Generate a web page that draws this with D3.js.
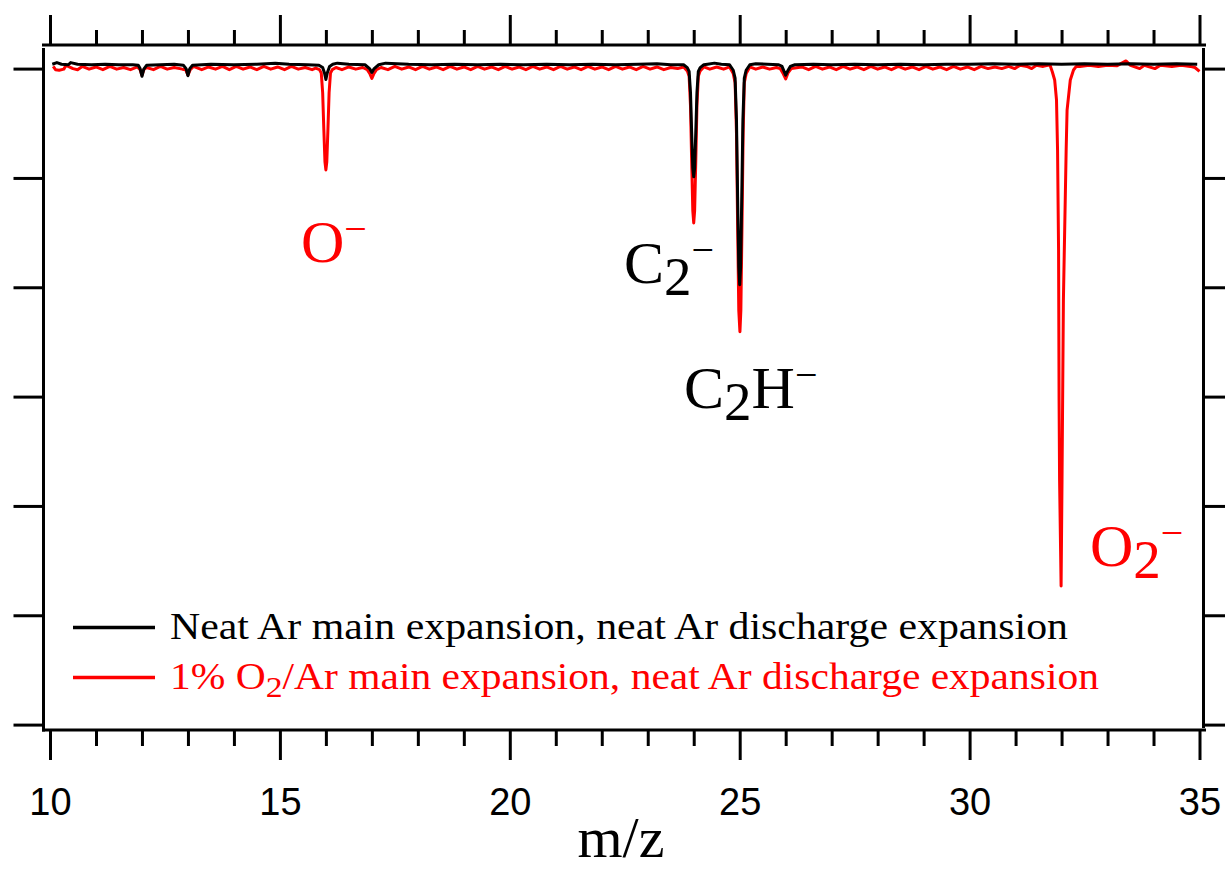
<!DOCTYPE html>
<html>
<head>
<meta charset="utf-8">
<script src="https://cdn.jsdelivr.net/npm/d3@7"></script>
<style>
	body { margin: 0; background: #fff; }
	svg { display: block; }
</style>
</head>
<body>
<div id="chart"></div>
<script>
// m/z axis ticks
var majorTicks = [10, 15, 20, 25, 30, 35];
var minorTicks = [11, 12, 13, 14, 16, 17, 18, 19, 21, 22, 23, 24, 26, 27, 28, 29, 31, 32, 33, 34];
// intensity axis ticks (unlabelled in the figure)
var yTicks = [0, 1, 2, 3, 4, 5, 6];

// neat Ar main expansion, neat Ar discharge expansion: [m/z, signal]
var blackTrace = [
	[10.05, 6.04], [10.15, 6.055], [10.25, 6.04], [10.4, 6.035], [10.45, 6.055], [10.6, 6.04], [10.9, 6.035],
	[11.2, 6.04], [11.5, 6.035], [11.8, 6.035],
	[11.92, 6.03], [11.96, 6.0], [12.0, 5.93], [12.04, 5.995], [12.1, 6.03],
	[12.4, 6.035], [12.7, 6.04], [12.9, 6.03], [12.96, 6.0], [13.0, 5.935], [13.04, 6.0], [13.1, 6.03],
	[13.5, 6.04], [14.0, 6.035], [14.5, 6.04], [14.9, 6.05], [15.2, 6.04], [15.6, 6.035], [15.85, 6.03],
	[15.93, 6.01], [15.97, 5.96], [16.0, 5.9], [16.03, 5.96], [16.08, 6.02], [16.15, 6.04], [16.25, 6.05], [16.5, 6.04],
	[16.85, 6.035], [16.95, 6.0], [17.0, 5.965], [17.05, 6.0], [17.15, 6.035], [17.3, 6.05],
	[17.8, 6.04], [18.3, 6.035], [18.8, 6.04], [19.3, 6.035], [19.8, 6.04], [20.3, 6.035], [20.8, 6.04],
	[21.3, 6.035], [21.8, 6.04], [22.3, 6.035], [22.8, 6.04], [23.2, 6.045], [23.5, 6.035],
	[23.78, 6.035], [23.86, 6.009], [23.9, 5.974], [23.93, 5.779], [23.955, 5.42], [23.98, 5.092], [24.0, 5.01],
	[24.02, 5.092], [24.045, 5.42], [24.07, 5.779], [24.1, 5.974], [24.14, 6.009], [24.22, 6.035],
	[24.3, 6.04], [24.45, 6.05], [24.6, 6.04],
	[24.78, 6.035], [24.86, 5.985], [24.9, 5.914], [24.93, 5.532], [24.955, 4.828], [24.98, 4.184], [25.0, 4.023],
	[25.02, 4.184], [25.045, 4.828], [25.07, 5.532], [25.1, 5.914], [25.14, 5.985], [25.22, 6.035],
	[25.35, 6.045], [25.6, 6.04], [25.85, 6.035],
	[25.92, 6.02], [25.97, 5.97], [26.0, 5.94], [26.04, 5.975], [26.1, 6.02], [26.2, 6.035],
	[26.6, 6.04], [27.0, 6.035], [27.5, 6.04], [28.0, 6.035], [28.5, 6.04], [29.0, 6.035], [29.5, 6.04],
	[30.0, 6.04], [30.5, 6.045], [31.0, 6.04], [31.5, 6.045], [32.0, 6.04], [32.5, 6.045], [33.0, 6.04],
	[33.5, 6.045], [34.0, 6.04], [34.5, 6.045], [34.95, 6.04]
];

// 1% O2/Ar main expansion, neat Ar discharge expansion: [m/z, signal]
var redTrace = [
	[10.07, 6.02], [10.12, 5.99], [10.2, 5.985], [10.3, 5.995], [10.35, 6.03], [10.5, 6.0], [10.6, 5.99],
	[10.7, 6.02], [10.85, 5.995], [11.0, 6.015], [11.15, 5.99], [11.3, 6.02], [11.45, 5.995], [11.6, 6.01],
	[11.75, 5.99], [11.9, 6.015],
	[11.96, 5.99], [12.0, 5.94], [12.04, 5.99], [12.1, 6.01],
	[12.25, 5.99], [12.4, 6.02], [12.55, 5.995], [12.7, 6.01], [12.88, 5.995], [12.95, 5.99], [13.0, 5.94],
	[13.05, 5.99], [13.12, 6.02],
	[13.3, 5.99], [13.45, 6.015], [13.6, 5.995], [13.75, 6.02], [13.9, 5.99], [14.05, 6.02], [14.2, 5.995],
	[14.35, 6.015], [14.5, 5.99], [14.65, 6.02], [14.8, 5.995], [14.95, 6.015], [15.1, 5.99], [15.25, 6.02],
	[15.4, 5.995], [15.55, 6.01], [15.7, 5.99],
	[15.78, 6.005], [15.86, 5.991], [15.9, 5.958], [15.93, 5.779], [15.955, 5.45], [15.98, 5.148], [16.0, 5.073],
	[16.02, 5.148], [16.045, 5.45], [16.07, 5.779], [16.1, 5.958], [16.14, 5.991], [16.22, 6.01],
	[16.35, 5.99], [16.5, 6.015], [16.65, 5.995], [16.8, 6.01],
	[16.9, 5.99], [16.96, 5.95], [17.0, 5.91], [17.04, 5.95], [17.1, 5.99], [17.2, 6.01],
	[17.35, 5.99], [17.5, 6.02], [17.65, 5.995], [17.8, 6.015], [17.95, 5.99], [18.1, 6.02], [18.25, 5.995],
	[18.4, 6.015], [18.55, 5.99], [18.7, 6.02], [18.85, 5.995], [19.0, 6.015], [19.15, 5.99], [19.3, 6.02],
	[19.45, 5.995], [19.6, 6.015], [19.75, 5.99], [19.9, 6.02], [20.05, 5.995], [20.2, 6.015], [20.35, 5.99],
	[20.5, 6.02], [20.65, 5.995], [20.8, 6.015], [20.95, 5.99], [21.1, 6.02], [21.25, 5.995], [21.4, 6.015],
	[21.55, 5.99], [21.7, 6.02], [21.85, 5.995], [22.0, 6.015], [22.15, 5.99], [22.3, 6.02], [22.45, 5.995],
	[22.6, 6.015], [22.75, 5.99], [22.9, 6.02], [23.05, 5.995], [23.2, 6.015], [23.35, 5.99], [23.5, 6.01],
	[23.65, 6.0],
	[23.78, 6.015], [23.86, 5.979], [23.9, 5.929], [23.93, 5.658], [23.955, 5.159], [23.98, 4.702], [24.0, 4.588],
	[24.02, 4.702], [24.045, 5.159], [24.07, 5.658], [24.1, 5.929], [24.14, 5.979], [24.22, 6.015],
	[24.35, 5.995], [24.5, 6.015], [24.65, 5.995],
	[24.78, 6.015], [24.86, 5.954], [24.9, 5.87], [24.93, 5.41], [24.955, 4.562], [24.98, 3.788], [25.005, 3.594],
	[25.025, 3.788], [25.05, 4.562], [25.075, 5.41], [25.1, 5.87], [25.14, 5.954], [25.22, 6.015],
	[25.35, 5.995], [25.5, 6.015], [25.65, 5.995], [25.8, 6.01],
	[25.88, 6.0], [25.95, 5.95], [26.0, 5.905], [26.05, 5.96], [26.12, 6.0], [26.2, 6.005],
	[26.35, 6.015], [26.5, 5.99], [26.65, 6.02], [26.8, 5.995], [26.95, 6.015], [27.1, 5.99], [27.25, 6.02],
	[27.4, 5.995], [27.55, 6.015], [27.7, 5.99], [27.85, 6.02], [28.0, 5.995], [28.15, 6.015], [28.3, 5.99],
	[28.45, 6.02], [28.6, 5.995], [28.75, 6.015], [28.9, 5.99], [29.05, 6.02], [29.2, 5.995], [29.35, 6.015],
	[29.5, 5.99], [29.65, 6.02], [29.8, 5.995], [29.95, 6.015], [30.1, 5.99], [30.25, 6.02], [30.4, 6.0],
	[30.55, 6.015], [30.7, 6.0], [30.85, 6.02], [30.98, 6.0], [31.1, 6.03], [31.25, 6.02], [31.35, 6.0],
	[31.45, 6.03], [31.6, 6.02], [31.7, 6.03],
	[31.75, 6.03], [31.8, 5.969], [31.85, 5.896], [31.89, 5.713], [31.913, 5.256], [31.935, 4.341],
	[31.946, 2.969], [31.957, 2.237], [31.99, 1.268], [32.01, 2.237], [32.04, 3.884], [32.08, 4.799],
	[32.1, 5.256], [32.12, 5.621], [32.19, 5.896], [32.26, 5.987], [32.32, 6.02],
	[32.4, 6.02], [32.6, 6.03], [32.8, 6.02], [33.0, 6.03], [33.2, 6.025], [33.4, 6.07], [33.5, 6.03],
	[33.7, 6.0], [33.8, 6.03], [34.03, 6.0], [34.15, 6.03], [34.4, 6.02], [34.6, 6.03], [34.8, 6.02],
	[34.9, 6.01], [35.0, 5.975]
];

// legend rows, each split in [text, isSubscript] pieces
var legendRows = [
	{ color: "#000", pieces: [["Neat Ar main expansion, neat Ar discharge expansion", 0]] },
	{ color: "#f00", pieces: [["1% O", 0], ["2", 1], ["/Ar main expansion, neat Ar discharge expansion", 0]] }
];
var legendWidths = [898, 929];

// ion labels, pieces marked 0 normal, 1 subscript, 2 superscript
var ionLabels = [
	{ color: "#f00", pieces: [["O", 0], ["\u2212", 2]] },
	{ color: "#000", pieces: [["C", 0], ["2", 1], ["\u2212", 2]] },
	{ color: "#000", pieces: [["C", 0], ["2", 1], ["H", 0], ["\u2212", 2]] },
	{ color: "#f00", pieces: [["O", 0], ["2", 1], ["\u2212", 2]] }
];
var ionLabelPos = [[301, 262], [624, 283], [684, 408], [1090, 566]];

var W = 1225, H = 873;
var svg = d3.select("#chart").append("svg")
	.attr("width", W)
	.attr("height", H)
	.style("background", "#fff");

var x = d3.scaleLinear().domain([10, 35]).range([50, 1199.5]);
var y = d3.scaleLinear().domain([0, 6]).range([724.6, 68.6]);

function plainTicks(g) {
	g.select(".domain").remove();
	g.selectAll(".tick line").attr("stroke", "#000").attr("stroke-width", 3);
}

// top axis
svg.append("g").attr("transform", "translate(0,45)")
	.call(d3.axisTop(x).tickValues(majorTicks).tickSize(30).tickFormat(""))
	.call(plainTicks);
svg.append("g").attr("transform", "translate(0,45)")
	.call(d3.axisTop(x).tickValues(minorTicks).tickSize(15).tickFormat(""))
	.call(plainTicks);

// bottom axis
var bottom = svg.append("g").attr("transform", "translate(0,730)")
	.call(d3.axisBottom(x).tickValues(majorTicks).tickSize(30).tickFormat(d3.format("d")))
	.call(plainTicks);
bottom.selectAll(".tick text")
	.attr("y", 85)
	.attr("dy", 0)
	.attr("fill", "#000")
	.style("font-family", "'Liberation Sans', Arial, sans-serif")
	.style("font-size", "38px");
svg.append("g").attr("transform", "translate(0,730)")
	.call(d3.axisBottom(x).tickValues(minorTicks).tickSize(16).tickFormat(""))
	.call(plainTicks);

// left and right axes
svg.append("g").attr("transform", "translate(43.5,0)")
	.call(d3.axisLeft(y).tickValues(yTicks).tickSize(30).tickFormat(""))
	.call(plainTicks);
svg.append("g").attr("transform", "translate(1203.5,0)")
	.call(d3.axisRight(y).tickValues(yTicks).tickSize(22).tickFormat(""))
	.call(plainTicks);

// frame
var frame = [[42, 45, 1206, 45], [42, 730, 1206, 730], [43.5, 48, 43.5, 731.5], [1203.5, 48, 1203.5, 728]];
svg.selectAll("line.frame").data(frame).enter().append("line")
	.attr("class", "frame")
	.attr("x1", function(d) { return d[0]; })
	.attr("y1", function(d) { return d[1]; })
	.attr("x2", function(d) { return d[2]; })
	.attr("y2", function(d) { return d[3]; })
	.attr("stroke", "#000")
	.attr("stroke-width", 3);

svg.append("clipPath").attr("id", "plotClip")
	.append("rect").attr("x", 45).attr("y", 47).attr("width", 1157).attr("height", 682);

var line = d3.line()
	.x(function(d) { return x(d[0]); })
	.y(function(d) { return y(d[1]); });

// red first so the black trace sits on top of the baseline
var traces = [[redTrace, "#f00"], [blackTrace, "#000"]];
svg.append("g").attr("clip-path", "url(#plotClip)")
	.selectAll("path").data(traces).enter().append("path")
	.attr("d", function(d) { return line(d[0]); })
	.attr("fill", "none")
	.attr("stroke", function(d) { return d[1]; })
	.attr("stroke-width", 3)
	.attr("stroke-linejoin", "round");

// legend
var legend = svg.append("g");
legendRows.forEach(function(row, i) {
	var ly = 627.5 + i * 50;
	legend.append("line")
		.attr("x1", 73).attr("x2", 155)
		.attr("y1", ly).attr("y2", ly)
		.attr("stroke", row.color)
		.attr("stroke-width", 3.5);
	var t = legend.append("text")
		.attr("x", 170)
		.attr("y", ly + 11)
		.attr("fill", row.color)
		.attr("textLength", legendWidths[i])
		.attr("lengthAdjust", "spacingAndGlyphs")
		.style("font-family", "'Liberation Serif', 'Times New Roman', serif")
		.style("font-size", "37px");
	var shift = 0;
	row.pieces.forEach(function(p) {
		var want = p[1] ? 8 : 0;
		t.append("tspan")
			.attr("dy", want - shift)
			.style("font-size", p[1] ? "30px" : "37px")
			.text(p[0]);
		shift = want;
	});
});

// ion labels
ionLabels.forEach(function(lab, i) {
	var t = svg.append("text")
		.attr("x", ionLabelPos[i][0])
		.attr("y", ionLabelPos[i][1])
		.attr("fill", lab.color)
		.style("font-family", "'Liberation Serif', 'Times New Roman', serif")
		.style("font-size", "60px");
	var shift = 0;
	lab.pieces.forEach(function(p) {
		var want = p[1] === 1 ? 12 : (p[1] === 2 ? -20 : 0);
		t.append("tspan")
			.attr("dy", want - shift)
			.style("font-size", p[1] === 1 ? "55px" : (p[1] === 2 ? "40px" : "60px"))
			.text(p[0]);
		shift = want;
	});
});

// x axis title
svg.append("text")
	.attr("x", 621)
	.attr("y", 857)
	.attr("text-anchor", "middle")
	.attr("fill", "#000")
	.style("font-family", "'Liberation Serif', 'Times New Roman', serif")
	.style("font-size", "58px")
	.text("m/z");
</script>
</body>
</html>
